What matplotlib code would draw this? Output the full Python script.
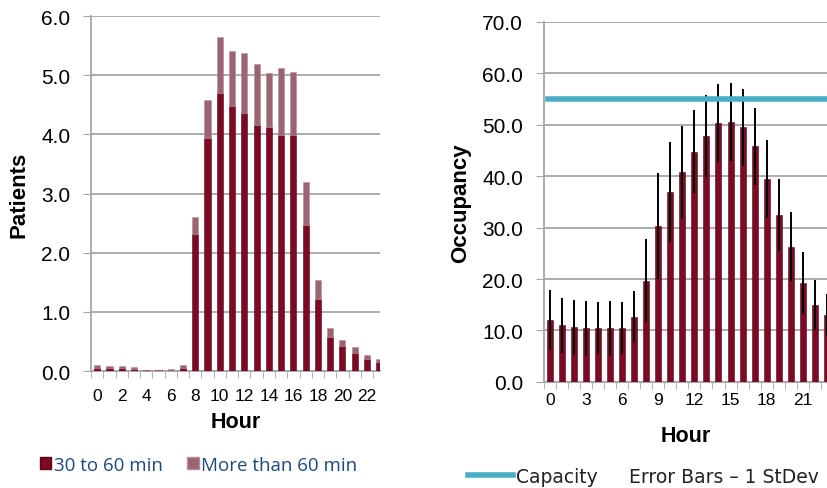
import numpy as np
import matplotlib.pyplot as plt
from matplotlib.patches import Patch
from matplotlib.lines import Line2D

plt.rcParams['font.family'] = ['Liberation Sans', 'DejaVu Sans']

# Dados - painel esquerdo (pacientes por hora, por tempo de espera)
horas = np.arange(24)
pacientes_30_60 = [0.06, 0.05, 0.05, 0.03, 0.02, 0.02, 0.02, 0.06,
                   2.31, 3.94, 4.70, 4.48, 4.36, 4.16, 4.13, 3.99,
                   3.99, 2.47, 1.22, 0.57, 0.42, 0.30, 0.21, 0.15]
pacientes_total = [0.10, 0.08, 0.08, 0.07, 0.02, 0.02, 0.04, 0.10,
                   2.61, 4.59, 5.65, 5.41, 5.38, 5.19, 5.04, 5.12,
                   5.06, 3.19, 1.54, 0.73, 0.53, 0.41, 0.27, 0.21]
pacientes_mais_60 = [t - b for t, b in zip(pacientes_total, pacientes_30_60)]

# Dados - painel direito (ocupação média e desvio padrão)
ocupacao = [12.0, 11.0, 10.6, 10.5, 10.5, 10.5, 10.5, 12.7,
            19.7, 30.4, 37.0, 40.8, 44.8, 47.8, 50.3, 50.6,
            49.5, 45.8, 39.5, 32.5, 26.3, 19.3, 15.0, 13.0]
desvio = [5.8, 5.4, 5.3, 5.2, 5.1, 5.2, 5.1, 5.0,
          8.0, 10.3, 9.7, 8.9, 8.1, 8.0, 7.6, 7.6,
          7.5, 7.5, 7.6, 7.0, 6.7, 6.0, 4.9, 4.0]
capacidade = 55.0

cor_base = '#7D0A24'
cor_topo = '#9A6470'
cor_grade = '#A6A6A6'

fig = plt.figure(figsize=(8.28, 4.89), dpi=100)

# --- painel esquerdo ---
ax1 = fig.add_axes([0.110, 0.239, 0.349, 0.726])
ax1.bar(horas, pacientes_30_60, width=0.5, color=cor_base,
        edgecolor='#5A0418', linewidth=0.4, zorder=3)
ax1.bar(horas, pacientes_mais_60, width=0.5, bottom=pacientes_30_60,
        color=cor_topo, edgecolor='#B88E97', linewidth=0.4, zorder=3)
ax1.set_ylim(0, 6)
ax1.set_xlim(-0.5, 23.07)
ax1.set_yticks(np.arange(0, 7, 1))
ax1.set_yticklabels([f'{v:.1f}' for v in np.arange(0, 7, 1)], fontsize=15)
ax1.set_xticks(np.arange(0, 24, 2))
ax1.set_xticklabels([str(h) for h in range(0, 24, 2)], fontsize=12.5)
ax1.set_xticks(np.arange(-0.5, 23.5, 1), minor=True)
ax1.tick_params(axis='x', which='major', length=0, pad=12)
ax1.tick_params(axis='x', which='minor', length=5, color=cor_grade)
ax1.tick_params(axis='y', length=6, color=cor_grade, pad=9)
ax1.set_ylabel('Patients', fontsize=16, fontweight='bold', labelpad=8)
ax1.set_xlabel('Hour', fontsize=15.5, fontweight='bold', labelpad=6)

# --- painel direito ---
ax2 = fig.add_axes([0.657, 0.217, 0.343, 0.736])
ax2.bar(horas, ocupacao, width=0.5, color=cor_base,
        edgecolor='#5A0418', linewidth=0.4, zorder=3)
ax2.errorbar(horas, ocupacao, yerr=desvio, fmt='none', ecolor='black',
             elinewidth=1.4, capsize=0, zorder=4)
ax2.plot([-0.2, 23.5], [capacidade, capacidade], color='#4BACC6',
         linewidth=4, zorder=5)
ax2.set_ylim(0, 70)
ax2.set_xlim(-0.5, 23.1)
ax2.set_yticks(np.arange(0, 80, 10))
ax2.set_yticklabels([f'{v:.1f}' for v in np.arange(0, 80, 10)], fontsize=15)
ax2.set_xticks(np.arange(0, 24, 3))
ax2.set_xticklabels([str(h) for h in range(0, 24, 3)], fontsize=12.5)
ax2.set_xticks(np.arange(-0.5, 23.5, 1), minor=True)
ax2.tick_params(axis='x', which='major', length=0, pad=7)
ax2.tick_params(axis='x', which='minor', length=5, color=cor_grade)
ax2.tick_params(axis='y', length=6, color=cor_grade, pad=9)
ax2.set_ylabel('Occupancy', fontsize=16, fontweight='bold', labelpad=8)
ax2.set_xlabel('Hour', fontsize=15.5, fontweight='bold', labelpad=13)

for ax in (ax1, ax2):
    ax.grid(axis='y', color=cor_grade, linewidth=1.3, zorder=0)
    ax.set_axisbelow(True)
    for lado in ('top', 'right'):
        ax.spines[lado].set_visible(False)
    for lado in ('left', 'bottom'):
        ax.spines[lado].set_color(cor_grade)
        ax.spines[lado].set_linewidth(1.3)

# legendas
fig.legend(handles=[Patch(facecolor=cor_base, edgecolor='#5A0418'),
                    Patch(facecolor=cor_topo, edgecolor='#B88E97')],
           labels=['30 to 60 min', 'More than 60 min'],
           loc='center left', bbox_to_anchor=(0.028, 0.047), ncol=2,
           frameon=False, handlelength=0.6, handleheight=0.6,
           handletextpad=0.15, columnspacing=1.3,
           prop={'family': 'Open Sans', 'size': 13.5}, labelcolor='#1F497D')
fig.legend(handles=[Line2D([], [], color='#4BACC6', linewidth=4)],
           labels=['Capacity'], loc='center left',
           bbox_to_anchor=(0.545, 0.024), frameon=False,
           handlelength=2.4, handletextpad=0.15,
           prop={'family': 'DejaVu Sans', 'size': 13.5}, labelcolor='#222222')
fig.text(0.760, 0.024, 'Error Bars \u2013 1 StDev', fontsize=13.5,
         family='DejaVu Sans', color='#222222', va='center')

fig.savefig('out.png', dpi=100)
